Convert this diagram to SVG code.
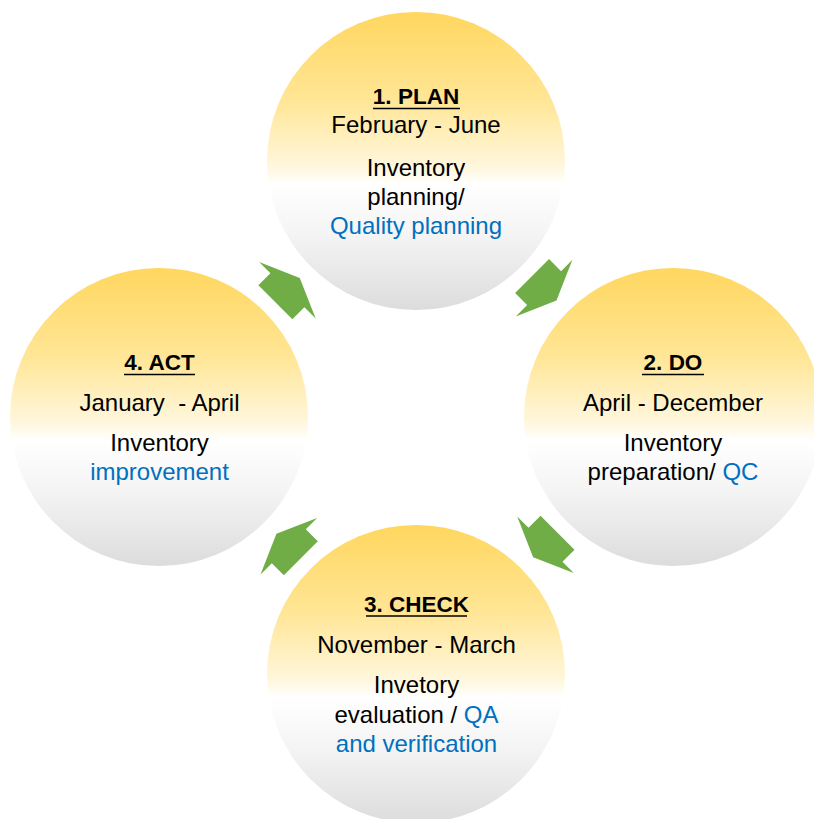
<svg xmlns="http://www.w3.org/2000/svg" width="814" height="819" viewBox="0 0 814 819">
  <defs>
    <linearGradient id="g" x1="0" y1="0" x2="0" y2="1">
      <stop offset="0" stop-color="#FFD75F"/>
      <stop offset="0.3" stop-color="#FFE697"/>
      <stop offset="0.52" stop-color="#FFF7DD"/>
      <stop offset="0.58" stop-color="#FFFFFF"/>
      <stop offset="0.75" stop-color="#F4F4F4"/>
      <stop offset="1" stop-color="#DCDCDC"/>
    </linearGradient>
    <polygon id="arr" points="-17,-24 0,-24 0,-40 17.5,0 0,40 0,24 -17,24"/>
  </defs>
  <style>
    .c { fill: url(#g); }
    text { font-family: "Liberation Sans", Arial, sans-serif; font-size: 24px; fill: #000; text-anchor: middle; }
    .h { font-weight: bold; font-size: 22.5px; }
    .b { fill: #0070C0; }
    .u { stroke: #000; stroke-width: 1.6; }
    .a { fill: #70AD47; }
  </style>
  <rect width="814" height="819" fill="#FFFFFF"/>

  <g id="plan">
    <circle class="c" cx="416" cy="161" r="149"/>
    <text class="h" x="416" y="104">1. PLAN</text>
    <line class="u" x1="373" y1="108.5" x2="460" y2="108.5"/>
    <text x="416" y="133">February - June</text>
    <text x="416" y="176">Inventory</text>
    <text x="416" y="204.5">planning/</text>
    <text x="416" y="233.5" class="b">Quality planning</text>
  </g>

  <g id="do">
    <circle class="c" cx="673" cy="417" r="149"/>
    <text class="h" x="673" y="370">2. DO</text>
    <line class="u" x1="642" y1="374.5" x2="704" y2="374.5"/>
    <text x="673" y="411">April - December</text>
    <text x="673" y="451">Inventory</text>
    <text x="673" y="480">preparation/ <tspan class="b">QC</tspan></text>
  </g>

  <g id="check">
    <circle class="c" cx="416" cy="674" r="149"/>
    <text class="h" x="416.5" y="611.5">3. CHECK</text>
    <line class="u" x1="366" y1="616" x2="467" y2="616"/>
    <text x="416.5" y="652.5">November - March</text>
    <text x="416.5" y="693">Invetory</text>
    <text x="416.5" y="722.5">evaluation / <tspan class="b">QA</tspan></text>
    <text x="416.5" y="751.5" class="b">and verification</text>
  </g>

  <g id="act">
    <circle class="c" cx="159" cy="417" r="149"/>
    <text class="h" x="159.5" y="370">4. ACT</text>
    <line class="u" x1="124" y1="374.5" x2="195" y2="374.5"/>
    <text x="159.5" y="411" style="white-space:pre">January  - April</text>
    <text x="159.5" y="451">Inventory</text>
    <text x="159.5" y="480" class="b">improvement</text>
  </g>

  <g id="connectors">
    <use href="#arr" class="a" transform="translate(287.4,290.3) rotate(-45)"/>
    <use href="#arr" class="a" transform="translate(544.1,288.1) rotate(45)"/>
    <use href="#arr" class="a" transform="translate(545.5,544.8) rotate(135)"/>
    <use href="#arr" class="a" transform="translate(288.8,546.2) rotate(-135)"/>
  </g>
</svg>
